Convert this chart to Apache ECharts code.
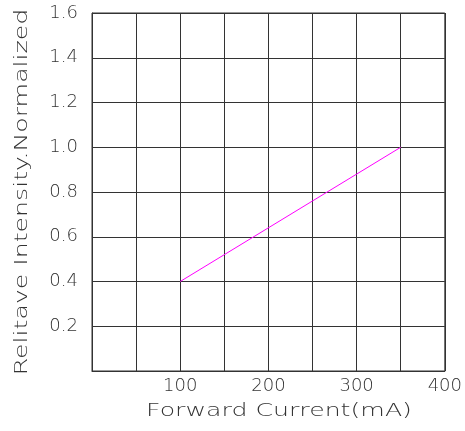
<!DOCTYPE html>
<html>
<head>
<meta charset="utf-8">
<script src="https://cdn.jsdelivr.net/npm/echarts@6/dist/echarts.min.js"></script>
<style>
html,body{margin:0;padding:0;background:#fff;}
#chart{width:465px;height:431px;}
</style>
</head>
<body>
<div id="chart"></div>
<script>
const currentMA = [100, 350];
const relIntensity = [0.4, 1.0];
const xTickLabels = [100, 200, 300, 400];
const yTickLabels = [0.2, 0.4, 0.6, 0.8, 1.0, 1.2, 1.4, 1.6];
const xTitle = 'Forward Current(mA)';
const yTitle = 'Relitave Intensity.Normalized';

const chart = echarts.init(document.getElementById('chart'), null, {renderer: 'canvas'});
const font = 'DejaVu Sans';
const gridColor = '#333';
const textColor = '#333';
chart.setOption({
  animation: false,
  backgroundColor: '#fff',
  grid: {left: 92, right: 18, top: 13, bottom: 60, show: true, borderColor: gridColor, borderWidth: 1},
  xAxis: {
    type: 'value', min: 0, max: 400, interval: 50,
    axisLine: {show: true, lineStyle: {color: gridColor, width: 1}},
    axisTick: {show: false},
    splitLine: {show: true, lineStyle: {color: gridColor, width: 1}},
    axisLabel: {
      margin: 6, fontFamily: font, fontWeight: 200, fontSize: 18, color: textColor,
      formatter: v => xTickLabels.includes(v) ? String(v) : ''
    }
  },
  yAxis: {
    type: 'value', min: 0, max: 1.6, interval: 0.2,
    axisLine: {show: true, lineStyle: {color: gridColor, width: 1}},
    axisTick: {show: false},
    splitLine: {show: true, lineStyle: {color: gridColor, width: 1}},
    axisLabel: {
      margin: 14, fontFamily: font, fontWeight: 200, fontSize: 18, color: textColor,
      verticalAlign: 'middle', padding: [13, 0, 0, 0],
      formatter: v => {
        const m = yTickLabels.find(t => Math.abs(t - v) < 1e-6);
        return m !== undefined ? m.toFixed(1) : '';
      }
    }
  },
  graphic: [
    {
      type: 'text', x: 279, y: 411, scaleX: 1.4,
      style: {text: xTitle, font: '200 18px "DejaVu Sans"', fill: textColor, textAlign: 'center', textVerticalAlign: 'middle'}
    },
    {
      type: 'text', x: 22, y: 192, rotation: Math.PI / 2, scaleX: 1.4,
      style: {text: yTitle, font: '200 18px "DejaVu Sans"', fill: textColor, textAlign: 'center', textVerticalAlign: 'middle'}
    }
  ],
  series: [{
    type: 'line',
    data: currentMA.map((x, i) => [x, relIntensity[i]]),
    symbol: 'none',
    lineStyle: {color: '#ff00ff', width: 1}
  }]
});
</script>
</body>
</html>
